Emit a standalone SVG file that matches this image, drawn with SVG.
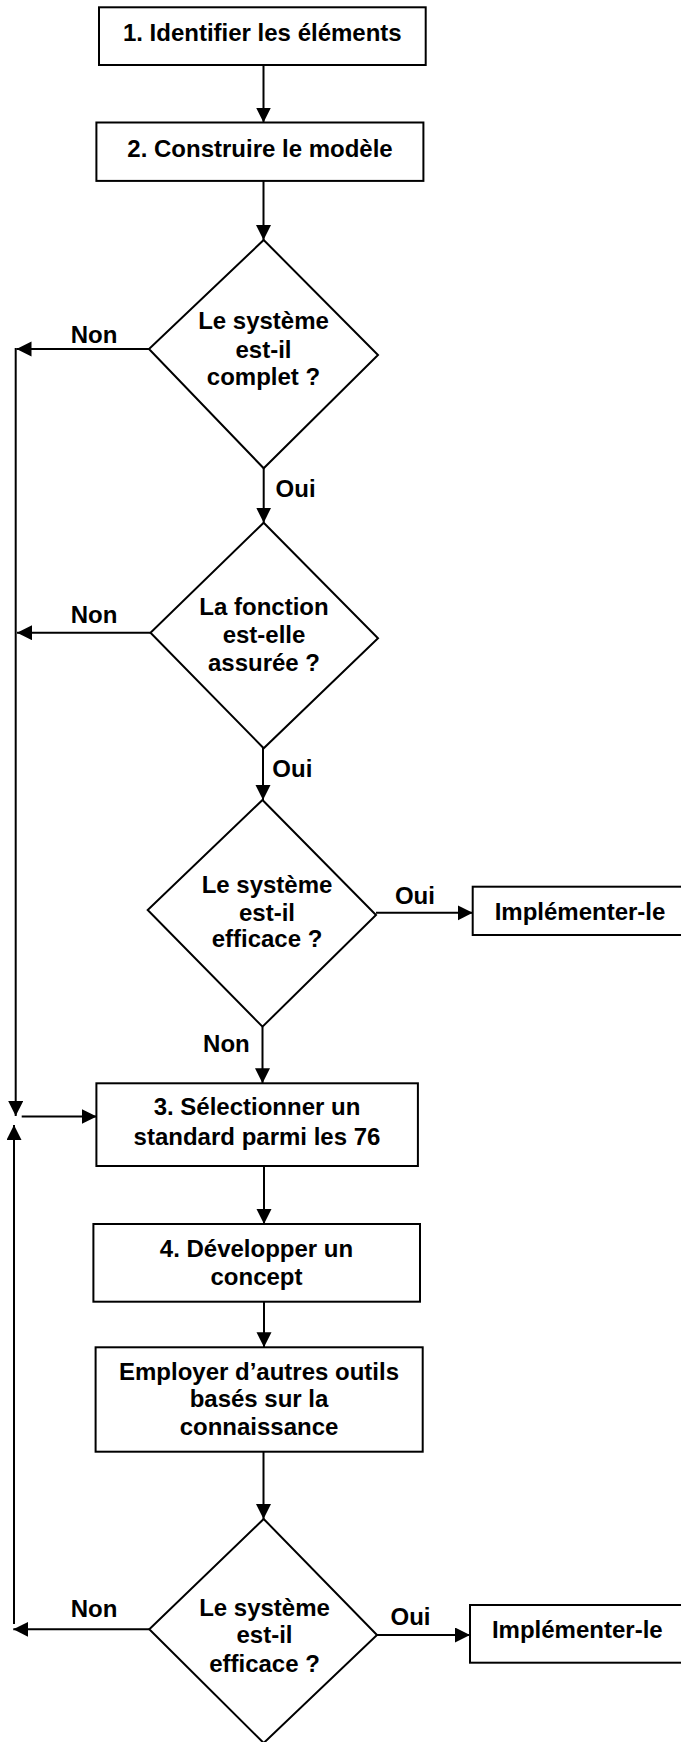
<svg xmlns="http://www.w3.org/2000/svg" width="681" height="1742" viewBox="0 0 681 1742">
<style>
.box{fill:#fff;stroke:#000;stroke-width:2}
.dia{fill:#fff;stroke:#000;stroke-width:2;stroke-linejoin:miter}
.t{font-family:"Liberation Sans",Arial,sans-serif;font-weight:bold;font-size:24px;fill:#000;text-anchor:middle}
.ln{fill:none;stroke:#000;stroke-width:2}
.ar{fill:none;stroke:#000;stroke-width:2;marker-end:url(#ah)}
</style>
<defs>
<marker id="ah" markerUnits="userSpaceOnUse" markerWidth="16" markerHeight="16" refX="15" refY="7.5" orient="auto">
<path d="M0,0 L15,7.5 L0,15 z" fill="#000"/>
</marker>
</defs>
<rect width="681" height="1742" fill="#fff"/>
<g id="connectors">
<line class="ar" x1="263.5" y1="65" x2="263.5" y2="122.5"/>
<line class="ar" x1="263.5" y1="181" x2="263.5" y2="240"/>
<line class="ar" x1="263.7" y1="468" x2="263.7" y2="522.7"/>
<line class="ar" x1="263" y1="748" x2="263" y2="800"/>
<line class="ar" x1="262.5" y1="1027" x2="262.5" y2="1083.3"/>
<line class="ar" x1="264" y1="1166" x2="264" y2="1224"/>
<line class="ar" x1="264" y1="1302" x2="264" y2="1347.3"/>
<line class="ar" x1="263.5" y1="1452" x2="263.5" y2="1519"/>
<line class="ar" x1="149" y1="349" x2="16.5" y2="349"/>
<line class="ar" x1="150.5" y1="632.7" x2="17" y2="632.7"/>
<line class="ar" x1="15.7" y1="348" x2="15.7" y2="1116"/>
<line class="ar" x1="21.7" y1="1116.5" x2="96.7" y2="1116.5"/>
<line class="ar" x1="14" y1="1624" x2="14" y2="1125"/>
<line class="ar" x1="149.3" y1="1629.3" x2="13.3" y2="1629.3"/>
<line class="ar" x1="376" y1="912.8" x2="472.7" y2="912.8"/>
<line class="ar" x1="377" y1="1635" x2="470" y2="1635"/>
</g>
<g id="n1">
<rect class="box" x="99" y="7.3" width="326.7" height="57.7"/>
<text class="t" x="262.3" y="40.7">1. Identifier les éléments</text>
</g>
<g id="n2">
<rect class="box" x="96.4" y="122.5" width="327" height="58.4"/>
<text class="t" x="260" y="156.7">2. Construire le modèle</text>
</g>
<g id="d1">
<polygon class="dia" points="263.7,240 378,355 263.7,468.3 149,349"/>
<text class="t" x="263.5" y="329.3">Le système</text>
<text class="t" x="263.5" y="357.7">est-il</text>
<text class="t" x="263.5" y="385.3">complet ?</text>
</g>
<g id="d2">
<polygon class="dia" points="263.7,522.7 378,638.3 263.7,748.3 150.5,632.7"/>
<text class="t" x="264" y="615">La fonction</text>
<text class="t" x="264" y="642.7">est-elle</text>
<text class="t" x="264" y="670.7">assurée ?</text>
</g>
<g id="d3">
<polygon class="dia" points="262.5,800 376,915 262.5,1026.7 147.7,910"/>
<text class="t" x="267" y="892.7">Le système</text>
<text class="t" x="267" y="920.7">est-il</text>
<text class="t" x="267" y="947.3">efficace ?</text>
</g>
<g id="impl1">
<rect class="box" x="472.7" y="886.7" width="215" height="48.3"/>
<text class="t" x="580" y="920">Implémenter-le</text>
</g>
<g id="n3">
<rect class="box" x="96.4" y="1083.3" width="321.5" height="82.7"/>
<text class="t" x="257" y="1115">3. Sélectionner un</text>
<text class="t" x="257" y="1145">standard parmi les 76</text>
</g>
<g id="n4">
<rect class="box" x="93.4" y="1224" width="326.6" height="77.7"/>
<text class="t" x="256.5" y="1256.7">4. Développer un</text>
<text class="t" x="256.5" y="1285">concept</text>
</g>
<g id="n5">
<rect class="box" x="95.6" y="1347.3" width="327.1" height="104.4"/>
<text class="t" x="259" y="1380">Employer d’autres outils</text>
<text class="t" x="259" y="1406.7">basés sur la</text>
<text class="t" x="259" y="1435">connaissance</text>
</g>
<g id="d4">
<polygon class="dia" points="263.7,1519 377,1635 263.7,1743 149.3,1629.3"/>
<text class="t" x="264.5" y="1616">Le système</text>
<text class="t" x="264.5" y="1643.3">est-il</text>
<text class="t" x="264.5" y="1671.7">efficace ?</text>
</g>
<g id="impl2">
<rect class="box" x="470" y="1605" width="215" height="57.7"/>
<text class="t" x="577.3" y="1638.3">Implémenter-le</text>
</g>
<g id="labels">
<text class="t" x="94" y="342.7">Non</text>
<text class="t" x="94" y="622.7">Non</text>
<text class="t" x="295.6" y="496.7">Oui</text>
<text class="t" x="292.3" y="776.7">Oui</text>
<text class="t" x="414.9" y="904">Oui</text>
<text class="t" x="226.4" y="1051.7">Non</text>
<text class="t" x="94" y="1616.7">Non</text>
<text class="t" x="410.5" y="1625">Oui</text>
</g>
</svg>
